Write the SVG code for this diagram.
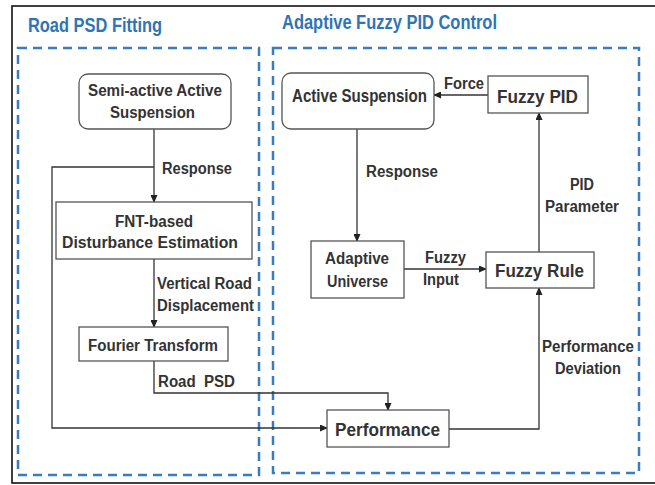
<svg xmlns="http://www.w3.org/2000/svg" width="655" height="485" viewBox="0 0 655 485">
<style>
.title{font-family:"Liberation Sans",Arial,sans-serif;font-weight:bold;font-size:21px;fill:#2f74b5}
.t{font-family:"Liberation Sans",Arial,sans-serif;font-weight:bold;fill:#333;font-size:16px}
.big{font-size:19px}
.box{fill:#fff;stroke:#555;stroke-width:1.3}
.dash{fill:none;stroke:#3a7cc0;stroke-width:2.5;stroke-dasharray:9 6}
.c{fill:none;stroke:#333;stroke-width:1.3}
</style>
<defs>
<marker id="ah" markerUnits="userSpaceOnUse" markerWidth="8" markerHeight="7" refX="7" refY="3.5" orient="auto">
<path d="M0,0 L8,3.5 L0,7 z" fill="#222"/>
</marker>
</defs>
<rect x="0" y="0" width="655" height="485" fill="#fff"/>
<rect x="12" y="6" width="660" height="477" fill="none" stroke="#111" stroke-width="1.6"/>
<rect class="dash" x="18" y="48" width="241" height="427"/>
<rect class="dash" x="273" y="48" width="366" height="425"/>
<text class="title" x="28" y="32" textLength="134" lengthAdjust="spacingAndGlyphs">Road PSD Fitting</text>
<text class="title" x="282" y="29" textLength="215" lengthAdjust="spacingAndGlyphs">Adaptive Fuzzy PID Control</text>

<g id="connectors">
<line class="c" x1="154" y1="129" x2="154" y2="202" marker-end="url(#ah)"/>
<polyline class="c" points="154,167 52,167 52,428 327,428" marker-end="url(#ah)"/>
<line class="c" x1="154" y1="259" x2="154" y2="327" marker-end="url(#ah)"/>
<polyline class="c" points="154,361 154,393 388,393 388,410" marker-end="url(#ah)"/>
<polyline class="c" points="449,429 539,429 539,288" marker-end="url(#ah)"/>
<line class="c" x1="404" y1="269" x2="486" y2="269" marker-end="url(#ah)"/>
<line class="c" x1="357" y1="129" x2="357" y2="241" marker-end="url(#ah)"/>
<line class="c" x1="539" y1="252" x2="539" y2="113" marker-end="url(#ah)"/>
<line class="c" x1="488" y1="95" x2="434" y2="95" marker-end="url(#ah)"/>
<text class="t" x="162" y="174" textLength="70" lengthAdjust="spacingAndGlyphs">Response</text>
<text class="t" x="157" y="289" textLength="95" lengthAdjust="spacingAndGlyphs">Vertical Road</text>
<text class="t" x="157" y="311" textLength="97" lengthAdjust="spacingAndGlyphs">Displacement</text>
<text class="t" x="158" y="387" textLength="77" lengthAdjust="spacingAndGlyphs" style="white-space:pre">Road  PSD</text>
<text class="t" x="542" y="352" textLength="92" lengthAdjust="spacingAndGlyphs">Performance</text>
<text class="t" x="555" y="374" textLength="66" lengthAdjust="spacingAndGlyphs">Deviation</text>
<text class="t" x="425" y="263" textLength="41" lengthAdjust="spacingAndGlyphs">Fuzzy</text>
<text class="t" x="423" y="285" textLength="36" lengthAdjust="spacingAndGlyphs">Input</text>
<text class="t" x="366" y="177" textLength="72" lengthAdjust="spacingAndGlyphs">Response</text>
<text class="t" x="444" y="89" textLength="40" lengthAdjust="spacingAndGlyphs">Force</text>
<text class="t" x="570" y="190" textLength="24" lengthAdjust="spacingAndGlyphs">PID</text>
<text class="t" x="545" y="212" textLength="74" lengthAdjust="spacingAndGlyphs">Parameter</text>
</g>

<g id="semi-active">
<rect class="box" x="79" y="74" width="152" height="55" rx="9"/>
<text class="t" x="88" y="96" textLength="134" lengthAdjust="spacingAndGlyphs">Semi-active Active</text>
<text class="t" x="110" y="118" textLength="85" lengthAdjust="spacingAndGlyphs">Suspension</text>
</g>
<g id="fnt">
<rect class="box" x="56" y="202" width="196" height="57"/>
<text class="t" x="115" y="227" textLength="78" lengthAdjust="spacingAndGlyphs">FNT-based</text>
<text class="t" x="62" y="248" textLength="176" lengthAdjust="spacingAndGlyphs">Disturbance Estimation</text>
</g>
<g id="fourier">
<rect class="box" x="79" y="327" width="149" height="34"/>
<text class="t" x="88" y="351" textLength="130" lengthAdjust="spacingAndGlyphs">Fourier Transform</text>
</g>
<g id="performance">
<rect class="box" x="327" y="410" width="122" height="37"/>
<text class="t big" x="335" y="436" textLength="105" lengthAdjust="spacingAndGlyphs">Performance</text>
</g>
<g id="active">
<rect class="box" x="282" y="73" width="152" height="56" rx="9"/>
<text class="t big" x="292" y="102" textLength="135" lengthAdjust="spacingAndGlyphs">Active Suspension</text>
</g>
<g id="fuzzy-pid">
<rect class="box" x="488" y="76" width="100" height="37"/>
<text class="t big" x="497" y="103" textLength="81" lengthAdjust="spacingAndGlyphs">Fuzzy PID</text>
</g>
<g id="adaptive">
<rect class="box" x="311" y="241" width="93" height="57"/>
<text class="t" x="325" y="264" textLength="64" lengthAdjust="spacingAndGlyphs">Adaptive</text>
<text class="t" x="327" y="287" textLength="61" lengthAdjust="spacingAndGlyphs">Universe</text>
</g>
<g id="fuzzy-rule">
<rect class="box" x="486" y="252" width="108" height="36"/>
<text class="t big" x="495" y="277" textLength="89" lengthAdjust="spacingAndGlyphs">Fuzzy Rule</text>
</g>
</svg>
